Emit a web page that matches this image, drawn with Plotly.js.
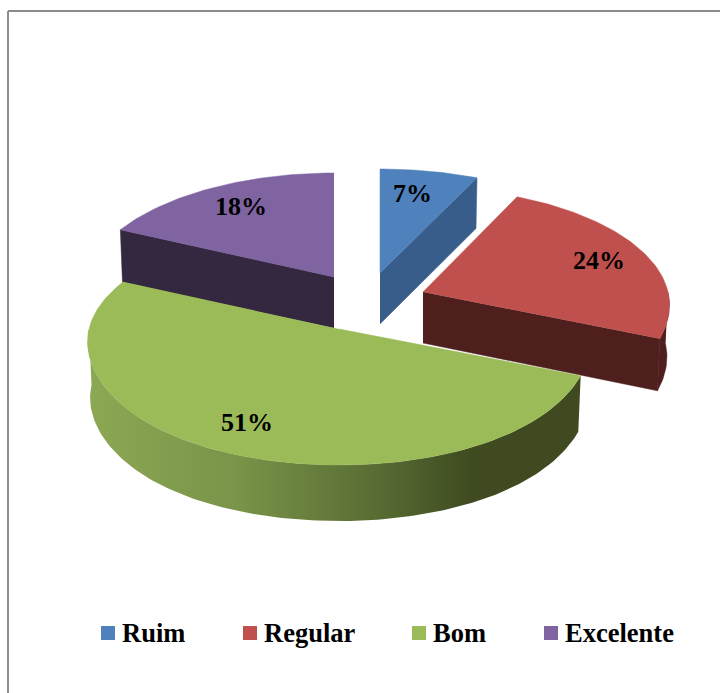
<!DOCTYPE html>
<html>
<head>
<meta charset="utf-8">
<script src="https://cdn.plot.ly/plotly-3.0.1.min.js"></script>
<style>html,body{margin:0;padding:0;background:#fff;overflow:hidden}</style>
</head>
<body>
<div id="chart" style="width:720px;height:693px"></div>
<script>
// Data
var categories = ['Ruim', 'Regular', 'Bom', 'Excelente'];
var values = [7, 24, 51, 18];
var topColors = ['#4f81bd', '#c0504d', '#9bbb59', '#8064a2'];
var sideColors = ['#385d8a', '#4f1f1e', '#3f4a20', '#33283f'];

// Projection of the tilted, exploded pie (layout constants)
var apexes = [[380, 273], [423, 292], [339, 329], [334, 277]];
var widthScale = [1.01, 0.98, 1, 0.99];
var depthShift = [0, -4, 0, 0];
var apexDepth = 51;
var labelAt = [[412, 193], [599, 260], [247, 422], [241, 206]];
var legendX = [101, 243, 412, 544];
var legendY = 633;
var drawOrder = [3, 0, 1, 2];

function rx(Y) { return 250 - 27 * Y; }
function ry(Y) { return Y >= 0 ? 116 - 12 * Y : 116 - 36 * Y - 16 * Y * Y; }
function depth(Y) { return Y >= 0 ? 56 - 6 * Y : 56; }
function topPt(i, a) {
  var X = Math.sin(a), Y = Math.cos(a);
  return [apexes[i][0] + X * rx(Y) * widthScale[i], apexes[i][1] - Y * ry(Y)];
}
function lowPt(i, a) {
  var X = Math.sin(a), Y = Math.cos(a);
  return [apexes[i][0] + X * rx(Y) * widthScale[i] * 0.99, apexes[i][1] - Y * ry(Y) + depth(Y) + depthShift[i]];
}
var total = values.reduce(function (s, v) { return s + v; }, 0);
var starts = [], ends = [], cum = 0;
values.forEach(function (v) {
  starts.push(cum / total * 2 * Math.PI);
  cum += v;
  ends.push(cum / total * 2 * Math.PI);
});
function arc(a0, a1, fn, i) {
  var n = Math.max(2, Math.ceil(Math.abs(a1 - a0) / 0.02)), pts = [];
  for (var k = 0; k <= n; k++) pts.push(fn(i, a0 + (a1 - a0) * k / n));
  return pts;
}
function poly(pts, color, name, gradient) {
  var t = {
    type: 'scatter', mode: 'lines', name: name, hoverinfo: 'skip', showlegend: false,
    x: pts.map(function (p) { return p[0]; }),
    y: pts.map(function (p) { return p[1]; }),
    fill: 'toself', fillcolor: color, line: { width: 0.5, color: color }
  };
  if (gradient) {
    t.fillgradient = { type: 'horizontal', colorscale: gradient };
    t.line = { width: 0 };
  }
  return t;
}

var traces = [];
var greenSide = [[0, '#8ca854'], [0.3, '#7a9449'], [0.6, '#566a32'], [0.78, '#3f4a20'], [1, '#3f4a20']];
drawOrder.forEach(function (i) {
  var a0 = starts[i], a1 = ends[i], A = apexes[i];
  var aLow = [A[0], A[1] + apexDepth];
  var name = categories[i];
  // cut faces that look toward the viewer
  if (a1 < Math.PI) traces.push(poly([A, topPt(i, a1), lowPt(i, a1), aLow], sideColors[i], name + ' face'));
  if (a0 > Math.PI) traces.push(poly([A, topPt(i, a0), lowPt(i, a0), aLow], sideColors[i], name + ' face'));
  // outer wall: only the near half of the rim is visible
  var w0 = Math.max(a0, Math.PI / 2), w1 = Math.min(a1, 3 * Math.PI / 2);
  if (w1 > w0) {
    var wall = arc(w0, w1, topPt, i).concat(arc(w1, w0, lowPt, i));
    traces.push(poly(wall, sideColors[i], name + ' wall', i === 2 ? greenSide : null));
  }
  // top face
  var top = [A].concat(arc(a0, a1, topPt, i));
  traces.push(poly(top, topColors[i], name));
});

var annotations = [];
var shapes = [
  { type: 'line', xref: 'x', yref: 'y', x0: 8, y0: 11, x1: 8, y1: 693, line: { color: '#8c8c8c', width: 2 } },
  { type: 'line', xref: 'x', yref: 'y', x0: 8, y0: 11, x1: 720, y1: 11, line: { color: '#8c8c8c', width: 2 } }
];
var serif = 'Liberation Serif, Times New Roman, serif';
values.forEach(function (v, i) {
  annotations.push({
    x: labelAt[i][0], y: labelAt[i][1], xref: 'x', yref: 'y', showarrow: false,
    text: Math.round(v / total * 100) + '%',
    font: { family: serif, size: 26, color: '#000', weight: 700 }
  });
});
categories.forEach(function (c, i) {
  shapes.push({
    type: 'rect', xref: 'x', yref: 'y',
    x0: legendX[i], x1: legendX[i] + 14, y0: legendY - 7, y1: legendY + 7,
    fillcolor: topColors[i], line: { width: 0 }
  });
  annotations.push({
    x: legendX[i] + 18.5, y: legendY - 0.5, xref: 'x', yref: 'y', xanchor: 'left', showarrow: false,
    text: c, font: { family: serif, size: 26.5, color: '#000', weight: 700 }
  });
});

Plotly.newPlot('chart', traces, {
  width: 720, height: 693,
  margin: { l: 0, r: 0, t: 0, b: 0 },
  paper_bgcolor: '#fff', plot_bgcolor: '#fff',
  showlegend: false,
  xaxis: { range: [0, 720], visible: false, fixedrange: true },
  yaxis: { range: [693, 0], visible: false, fixedrange: true },
  annotations: annotations, shapes: shapes
}, { displayModeBar: false, staticPlot: true });
</script>
</body>
</html>
